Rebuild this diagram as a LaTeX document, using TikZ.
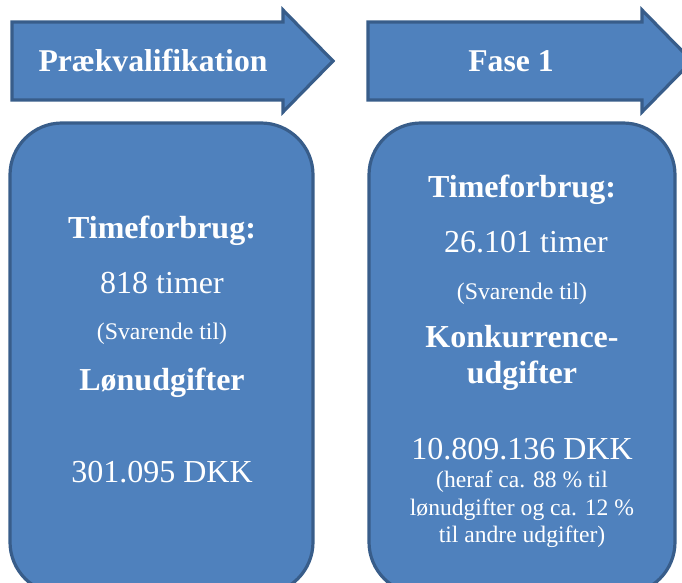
\documentclass[tikz,border=0pt]{standalone}
\usepackage{fontspec}
\setmainfont{Liberation Serif}
\definecolor{boxfill}{HTML}{4F81BD}
\definecolor{boxline}{HTML}{385D8A}
\begin{document}
\begin{tikzpicture}[x=1pt,y=-1pt,
  shapestyle/.style={fill=boxfill,draw=boxline,line width=3.2pt,line join=miter},
  head/.style={text=white,font=\fontsize{31.7}{31.7}\selectfont\bfseries,anchor=base,inner sep=0pt},
  big/.style={text=white,font=\fontsize{32}{32}\selectfont,anchor=base,inner sep=0pt},
  bigb/.style={text=white,font=\fontsize{32}{32}\selectfont\bfseries,anchor=base,inner sep=0pt},
  small/.style={text=white,font=\fontsize{23.8}{23.8}\selectfont,anchor=base,inner sep=0pt},
  note/.style={text=white,font=\fontsize{23.6}{23.6}\selectfont,anchor=base,inner sep=0pt}]
\useasboundingbox (0,0) rectangle (682,583);
\begin{scope}
\clip (0,0) rectangle (682,583);
% arrows
\draw[shapestyle] (12,22) -- (283,22) -- (283,10) -- (333,61) -- (283,112) -- (283,100) -- (12,100) -- cycle;
\draw[shapestyle] (368,22) -- (642,22) -- (642,10) -- (692,61) -- (642,112) -- (642,100) -- (368,100) -- cycle;
% boxes
\draw[shapestyle,rounded corners=52pt] (10,123) rectangle (313,594);
\draw[shapestyle,rounded corners=52pt] (369,123) rectangle (675,594);
\end{scope}
% arrow labels
\node[head] (a1) at (153,72) {Prækvalifikation};
\node[head] (a2) at (511,72) {Fase 1};
% left box
\node[bigb] (l1) at (162,238) {Timeforbrug:};
\node[big] (l2) at (162,293) {818 timer};
\node[small] (l3) at (162,339) {(Svarende til)};
\node[bigb] (l4) at (162,390) {Lønudgifter};
\node[big] (l5) at (162,482) {301.095 DKK};
% right box
\node[bigb] (r1) at (522,197) {Timeforbrug:};
\node[big] (r2) at (526,252) {26.101 timer};
\node[small] (r3) at (522,299) {(Svarende til)};
\node[bigb] (r4) at (522,347) {Konkurrence-};
\node[bigb] (r5) at (522,383) {udgifter};
\node[big] (r6) at (522,459) {10.809.136 DKK};
\node[note] (r7) at (522,487) {(heraf ca. 88 \% til};
\node[note] (r8) at (522,515) {lønudgifter og ca. 12 \%};
\node[note] (r9) at (522,542) {til andre udgifter)};
\end{tikzpicture}
\end{document}
